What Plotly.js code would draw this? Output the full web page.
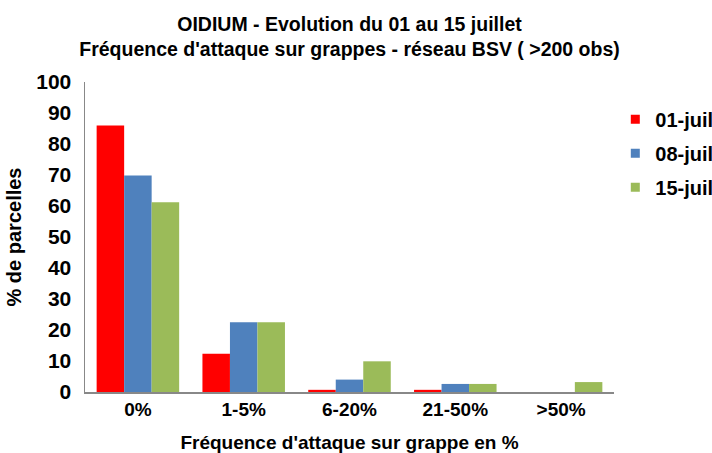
<!DOCTYPE html>
<html><head><meta charset="utf-8">
<script src="https://cdn.plot.ly/plotly-3.0.1.min.js"></script>
<style>html,body{margin:0;padding:0;background:#fff}#c{width:712px;height:453px}</style>
</head><body><div id="c"></div>
<script>
const categories = ["0%", "1-5%", "6-20%", "21-50%", ">50%"];
const seriesNames = ["01-juil", "08-juil", "15-juil"];
const juil01 = [86, 12.3, 0.7, 0.7, 0];
const juil08 = [69.8, 22.5, 4.0, 2.6, 0];
const juil15 = [61.2, 22.5, 9.9, 2.6, 3.2];
const colors = ["#ff0000", "#4f81bd", "#9bbb59"];
const yTicks = [0,10,20,30,40,50,60,70,80,90,100];

const font = "Liberation Sans, Arial, sans-serif";
const data = [juil01, juil08, juil15].map((v, i) => ({
  type: "bar", x: categories, y: v, name: seriesNames[i],
  legendgroup: "g" + i,
  marker: {color: colors[i]}
}));
const layout = {
  width: 712, height: 453,
  margin: {l: 85, r: 75, t: 82, b: 61},
  paper_bgcolor: "#fff", plot_bgcolor: "#fff",
  font: {family: font, color: "#000"},
  bargap: 0.22, bargroupgap: 0,
  title: {text: "<b>OIDIUM - Evolution du 01 au 15 juillet<br>Fréquence d'attaque sur grappes - réseau BSV ( >200 obs)</b>",
    font: {size: 19.5, family: font}, x: 0.5, xref: "paper", xanchor: "center",
    yref: "container", y: 0.932, yanchor: "middle"},
  xaxis: {
    title: {text: "<b>Fréquence d'attaque sur grappe en %</b>", font: {size: 19}, standoff: 25},
    tickfont: {size: 19}, ticks: "", showline: true, linecolor: "#888", linewidth: 1.5,
    tickprefix: "<b>", ticksuffix: "</b>", fixedrange: true
  },
  yaxis: {
    title: {text: "<b>% de parcelles</b>", font: {size: 20}, standoff: 9},
    range: [0, 100], tickvals: yTicks, ticktext: yTicks.map(t => "<b>" + t + "</b>"),
    tickfont: {size: 21}, showgrid: false, zeroline: false,
    showline: true, linecolor: "#888", linewidth: 1.5, ticks: "", ticklabelstandoff: 8
  },
  legend: {x: 0.976, xanchor: "left", y: 0.943, yanchor: "top",
    font: {size: 20}, itemwidth: 30, traceorder: "grouped", tracegroupgap: 5},
  showlegend: true
};
Plotly.newPlot("c", data, layout, {displayModeBar: false, staticPlot: true}).then(() => {
  document.querySelectorAll(".legendtext").forEach(t => t.style.fontWeight = "bold");
  const lg = document.querySelector(".legend");
  if (lg) {
    const tr = lg.getAttribute("transform") || "";
    lg.setAttribute("transform", tr + " translate(14,0)");
  }
  document.querySelectorAll(".legendpoints path").forEach(p => {
    const tr = p.getAttribute("transform") || "";
    p.setAttribute("transform", tr + " scale(0.75)");
  });
});
</script></body></html>
